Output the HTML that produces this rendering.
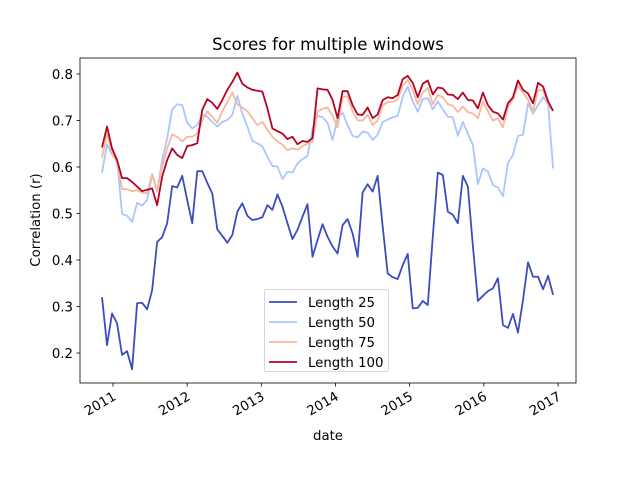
<!DOCTYPE html>
<html><head><meta charset="utf-8"><style>
body{margin:0;background:#fff;font-family:"Liberation Sans","DejaVu Sans",sans-serif;}
svg text{font-family:"DejaVu Sans","Liberation Sans",sans-serif;}
</style></head><body>
<svg id="chart" width="640" height="480" xmlns="http://www.w3.org/2000/svg"></svg>
<script>
const seriesNames = ["Length 25","Length 50","Length 75","Length 100"];
const seriesColors = ["#3b4cc0","#aac7fd","#f7b89c","#b40426"];
const yTicks = [0.2,0.3,0.4,0.5,0.6,0.7,0.8];
const xTickYears = [2011,2012,2013,2014,2015,2016,2017];
const startYear = 2010.852;
const stepYears = 0.06757;
const len25 = [0.320,0.217,0.285,0.264,0.196,0.204,0.165,0.307,0.308,0.294,0.335,0.439,0.449,0.479,0.559,0.556,0.581,0.529,0.479,0.591,0.591,0.566,0.543,0.466,0.452,0.437,0.454,0.504,0.522,0.495,0.486,0.488,
0.492,0.518,0.508,0.541,0.515,0.479,0.445,0.465,0.493,0.520,0.407,0.443,0.477,0.450,0.429,0.414,0.475,0.488,0.457,0.407,0.545,0.563,0.547,0.581,0.472,0.371,0.363,0.359,0.389,0.413,0.296,
0.297,0.312,0.303,0.450,0.588,0.583,0.504,0.497,0.479,0.581,0.558,0.430,0.312,0.323,0.333,0.339,0.361,0.260,0.254,0.284,0.244,0.314,0.395,0.364,0.364,0.337,0.366,0.325];
const len50 = [0.588,0.649,0.626,0.615,0.499,0.495,0.482,0.523,0.517,0.529,0.583,0.547,0.615,0.662,0.724,0.735,0.733,0.695,0.683,0.690,0.712,0.708,0.697,0.687,0.697,0.701,0.712,0.753,0.715,0.687,0.656,0.651,
0.644,0.622,0.602,0.601,0.574,0.590,0.588,0.608,0.617,0.624,0.683,0.710,0.707,0.695,0.658,0.705,0.717,0.690,0.667,0.664,0.676,0.674,0.658,0.669,0.697,0.702,0.707,0.710,0.751,0.773,0.741,
0.719,0.746,0.748,0.724,0.741,0.724,0.708,0.707,0.667,0.697,0.672,0.647,0.563,0.597,0.590,0.561,0.556,0.537,0.609,0.626,0.667,0.669,0.737,0.715,0.733,0.750,0.737,0.597];
const len75 = [0.620,0.672,0.630,0.610,0.553,0.552,0.548,0.550,0.545,0.543,0.585,0.550,0.600,0.640,0.670,0.665,0.655,0.665,0.665,0.672,0.700,0.720,0.708,0.695,0.720,0.740,0.760,0.735,0.728,0.720,0.705,0.690,
0.697,0.680,0.665,0.655,0.648,0.636,0.640,0.637,0.645,0.650,0.655,0.720,0.725,0.728,0.710,0.685,0.750,0.752,0.720,0.700,0.700,0.712,0.690,0.700,0.732,0.740,0.740,0.745,0.775,0.787,0.765,
0.735,0.760,0.770,0.735,0.755,0.750,0.735,0.732,0.718,0.730,0.718,0.715,0.705,0.740,0.720,0.700,0.705,0.685,0.730,0.745,0.775,0.760,0.745,0.720,0.765,0.765,0.735,0.720];
const len100 = [0.642,0.687,0.640,0.615,0.576,0.576,0.568,0.558,0.548,0.551,0.554,0.518,0.579,0.615,0.640,0.626,0.619,0.645,0.647,0.651,0.723,0.746,0.738,0.725,0.744,0.766,0.783,0.803,0.779,0.771,0.766,0.764,
0.762,0.726,0.683,0.677,0.672,0.660,0.665,0.649,0.656,0.654,0.662,0.769,0.767,0.766,0.744,0.705,0.763,0.763,0.733,0.713,0.712,0.728,0.705,0.713,0.744,0.750,0.748,0.755,0.789,0.796,0.781,
0.750,0.779,0.786,0.756,0.771,0.769,0.756,0.755,0.746,0.760,0.744,0.743,0.726,0.760,0.733,0.719,0.715,0.702,0.737,0.750,0.786,0.766,0.758,0.737,0.781,0.773,0.741,0.721];
const allSeries = [len25,len50,len75,len100];

const NS="http://www.w3.org/2000/svg";
const svg=document.getElementById('chart');
const L=80,R=576,T=58,B=383;
function yPix(v){return 353-(v-0.2)*465;}
function xPix(yr){return 113+(yr-2011)*74.17;}
function mk(tag,attrs,parent){const e=document.createElementNS(NS,tag);for(const k in attrs)e.setAttribute(k,attrs[k]);(parent||svg).appendChild(e);return e;}

const title=mk('text',{x:328,y:50,'text-anchor':'middle','font-size':16.5,fill:'#000'});
title.textContent='Scores for multiple windows';



const plot=mk('g',{});



allSeries.forEach((s,si)=>{
  const pts=s.map((v,i)=>xPix(startYear+i*stepYears).toFixed(2)+','+yPix(v).toFixed(2)).join(' ');
  const pl=mk('polyline',{points:pts,fill:'none',stroke:seriesColors[si],'stroke-width':1.8,'stroke-linejoin':'round'},plot);
  
  
});

const frame=mk('rect',{x:L,y:T,width:R-L,height:B-T,fill:'none',stroke:'#000','stroke-width':0.8});



yTicks.forEach(v=>{
  const y=yPix(v);
  const tk=mk('line',{x1:L-3.5,x2:L,y1:y,y2:y,stroke:'#000','stroke-width':0.8});
  
  
  const t=mk('text',{x:L-7,y:y+5,'text-anchor':'end','font-size':13.3,fill:'#000'});
  t.textContent=v.toFixed(1);
  
  
});
xTickYears.forEach(yr=>{
  const x=xPix(yr);
  const tk=mk('line',{x1:x,x2:x,y1:B,y2:B+3.5,stroke:'#000','stroke-width':0.8});
  
  
  const t=mk('text',{x:x+4,y:B+16,'text-anchor':'end','font-size':13.3,fill:'#000',transform:'rotate(-30 '+(x+4)+' '+(B+16)+')'});
  t.textContent=String(yr);
  
  
});
const xl=mk('text',{x:328,y:440,'text-anchor':'middle','font-size':13.3,fill:'#000'});
xl.textContent='date';


const yl=mk('text',{x:40,y:220,'text-anchor':'middle','font-size':13.3,fill:'#000',transform:'rotate(-90 40 220)'});
yl.textContent='Correlation (r)';



const lg=mk('g',{});


mk('rect',{x:264.5,y:289.5,width:124,height:82,rx:2,fill:'#fff','fill-opacity':0.8,stroke:'#ccc','stroke-width':0.8},lg);
seriesNames.forEach((n,i)=>{
  const y=302+i*20;
  const g=mk('g',{},lg);
  
  
  mk('line',{x1:269,x2:297,y1:y,y2:y,stroke:seriesColors[i],'stroke-width':1.8},g);
  const t=mk('text',{x:308,y:y+5,'font-size':13.3,fill:'#000'},g);
  t.textContent=n;
});
</script>
</body></html>
